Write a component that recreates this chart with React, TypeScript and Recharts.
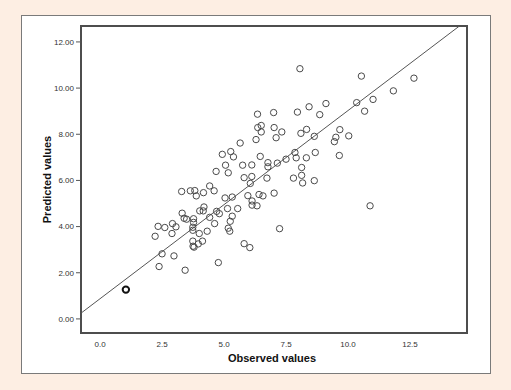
import React from 'react';
import { ScatterChart, Scatter, XAxis, YAxis } from 'recharts';

const observedValues = [
  2.22, 2.34, 2.38, 2.50, 2.61, 2.92, 2.90, 2.98, 3.06, 3.29,
  3.31, 3.39, 3.49, 3.43, 3.64, 3.82, 3.88, 3.77, 3.77, 3.74,
  3.74, 4.00, 3.74, 3.75, 3.79, 3.96, 4.13, 4.17, 4.19, 4.02,
  4.16, 4.42, 4.60, 4.42, 4.70, 4.81, 4.62, 4.32, 4.77, 4.68,
  5.17, 4.93, 5.27, 5.38, 5.06, 5.04, 5.33, 5.14, 5.33, 5.25,
  5.17, 5.23, 5.55, 5.81, 6.12, 6.06, 5.96, 6.13, 6.13, 6.33,
  6.41, 6.57, 6.73, 7.02, 7.24, 5.81, 6.04, 5.65, 5.75, 6.12,
  6.29, 6.35, 6.36, 6.50, 6.50, 6.46, 6.77, 6.77, 7.00, 7.02,
  7.10, 7.15, 7.33, 7.50, 7.80, 7.86, 7.91, 7.96, 8.06, 8.10,
  8.13, 8.13, 8.17, 8.33, 8.32, 8.43, 8.64, 8.64, 8.68, 8.86,
  9.11, 9.51, 9.45, 9.67, 9.65, 10.03, 10.35, 10.54, 10.67, 10.89,
  11.01, 11.83, 12.66,
];

const predictedValues = [
  3.58, 4.01, 2.27, 2.82, 3.96, 4.13, 3.70, 2.73, 3.99, 5.52,
  4.58, 4.36, 4.32, 2.11, 5.55, 5.56, 5.33, 4.34, 4.18, 3.97,
  3.84, 3.70, 3.37, 3.15, 3.11, 3.25, 3.37, 5.47, 4.85, 4.68,
  4.68, 5.76, 5.55, 4.40, 4.66, 4.56, 4.13, 3.80, 2.44, 6.39,
  6.33, 7.13, 7.25, 7.02, 6.66, 5.24, 5.28, 4.78, 4.45, 4.23,
  3.93, 3.80, 4.78, 6.12, 6.17, 5.87, 5.34, 5.11, 4.93, 4.90,
  5.39, 5.33, 6.10, 5.45, 3.91, 3.26, 3.09, 7.62, 6.66, 6.67,
  7.77, 8.87, 8.29, 8.38, 8.10, 7.04, 6.77, 6.59, 8.94, 8.29,
  7.85, 6.75, 8.10, 6.92, 6.10, 7.21, 6.98, 8.96, 10.84, 8.04,
  6.56, 6.22, 5.89, 8.21, 6.98, 9.19, 7.91, 5.99, 7.21, 8.85,
  9.33, 7.87, 7.68, 8.20, 7.08, 7.93, 9.37, 10.52, 9.00, 4.90,
  9.51, 9.88, 10.43,
];

const highlightedObserved = [1.04];
const highlightedPredicted = [1.27];

const fitIntercept = 0.877;
const fitSlope = 0.815;

const xDomain = [-0.77, 14.8];
const yDomain = [-0.61, 12.69];
const xTicks = [0, 2.5, 5, 7.5, 10, 12.5];
const yTicks = [0, 2, 4, 6, 8, 10, 12];

const points = observedValues.map((x, i) => ({ x, y: predictedValues[i] }));
const highlighted = highlightedObserved.map((x, i) => ({ x, y: highlightedPredicted[i] }));
const fitX = [xDomain[0], (yDomain[1] - fitIntercept) / fitSlope];
const fitLine = fitX.map((x) => ({ x, y: fitIntercept + fitSlope * x }));

const FONT = '"Liberation Sans", Arial, sans-serif';

const OpenCircle = (props: any) => {
  const { cx, cy } = props;
  if (cx == null || cy == null) return <g />;
  return <circle cx={cx} cy={cy} r={3.2} fill="none" stroke="#4a4a4a" strokeWidth={1} />;
};

const BoldCircle = (props: any) => {
  const { cx, cy } = props;
  if (cx == null || cy == null) return <g />;
  return <circle cx={cx} cy={cy} r={3.2} fill="none" stroke="#111" strokeWidth={2} />;
};

const NoShape = () => <g />;

const YLabel = (props: any) => {
  const vb = props.viewBox || {};
  const cx = 25;
  const cy = (vb.y || 0) + (vb.height || 0) / 2;
  return (
    <text
      x={cx}
      y={cy}
      transform={`rotate(-90 ${cx} ${cy})`}
      textAnchor="middle"
      dominantBaseline="central"
      fontFamily={FONT}
      fontSize={11}
      fontWeight="bold"
      fill="#111"
    >
      Predicted values
    </text>
  );
};

const XLabel = (props: any) => {
  const vb = props.viewBox || {};
  const cx = (vb.x || 0) + (vb.width || 0) / 2 - 2;
  const cy = 341.5;
  return (
    <text
      x={cx}
      y={cy}
      textAnchor="middle"
      dominantBaseline="central"
      fontFamily={FONT}
      fontSize={11}
      fontWeight="bold"
      fill="#111"
    >
      Observed values
    </text>
  );
};

export default function App() {
  return (
    <div
      style={{
        position: 'absolute',
        left: 0,
        top: 0,
        width: 511,
        height: 390,
        background: '#fdeee3',
      }}
    >
      <div
        style={{
          position: 'absolute',
          left: 21,
          top: 15,
          width: 468,
          height: 357,
          background: '#ffffff',
          border: '1.5px solid #7a7a7a',
        }}
      />
      <div
        style={{
          position: 'absolute',
          left: 80,
          top: 25,
          width: 384,
          height: 305,
          border: '2px solid #4d4d4d',
          boxSizing: 'content-box',
        }}
      />
      <div style={{ position: 'absolute', left: 22, top: 16 }}>
        <ScatterChart
          width={468}
          height={357}
          margin={{ top: 10, right: 23, bottom: 0, left: 0 }}
        >
          <XAxis
            type="number"
            dataKey="x"
            domain={xDomain}
            ticks={xTicks}
            allowDataOverflow
            tickFormatter={(v: number) => v.toFixed(1)}
            tickLine={false}
            axisLine={false}
            tickSize={6}
            tickMargin={2}
            height={40}
            tick={{ fontSize: 8, fill: '#333', fontFamily: FONT }}
            label={<XLabel />}
          />
          <YAxis
            type="number"
            dataKey="y"
            domain={yDomain}
            ticks={yTicks}
            allowDataOverflow
            tickFormatter={(v: number) => v.toFixed(2)}
            tickLine={{ stroke: '#555', strokeWidth: 1 }}
            axisLine={false}
            tickSize={5}
            tickMargin={2}
            width={59}
            tick={{ fontSize: 8, fill: '#333', fontFamily: FONT }}
            label={<YLabel />}
          />
          <Scatter
            data={fitLine}
            line={{ stroke: '#555', strokeWidth: 1 }}
            shape={<NoShape />}
            isAnimationActive={false}
          />
          <Scatter data={points} shape={<OpenCircle />} isAnimationActive={false} />
          <Scatter data={highlighted} shape={<BoldCircle />} isAnimationActive={false} />
        </ScatterChart>
      </div>
    </div>
  );
}
